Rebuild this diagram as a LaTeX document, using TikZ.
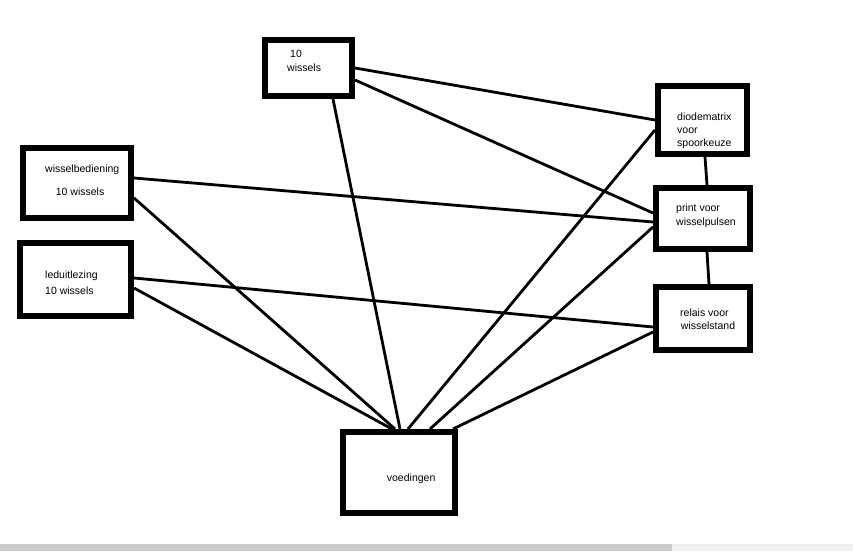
\documentclass[tikz,border=0pt]{standalone}
\usepackage{fontspec}
\setmainfont{Liberation Sans}
\usetikzlibrary{calc}
\tikzset{
  box/.style={draw=black, line width=6pt, inner sep=0pt, rectangle},
  conn/.style={draw=black, line width=2.8pt},
  lbl/.style={anchor=base west, inner sep=0pt, font=\fontsize{10.5}{12}\selectfont, text=black},
  barA/.style={fill=black!20, draw=none},
  barB/.style={fill=black!6, draw=none}
}
\begin{document}
\begin{tikzpicture}[x=1pt,y=-1pt]
\useasboundingbox (0,0) rectangle (853,551);
\fill[white] (0,0) rectangle (853,551);
\fill[barA] (0,544) rectangle (672,551);
\fill[barB] (672,544) rectangle (853,551);

% boxes
\node[box, minimum width=87pt, minimum height=56pt] (w10) at (308.5,68) {};
\node[box, minimum width=108pt, minimum height=70pt] (wb) at (77,183) {};
\node[box, minimum width=111pt, minimum height=73pt] (lu) at (75.5,279.5) {};
\node[box, minimum width=89pt, minimum height=68pt] (dm) at (702.5,120) {};
\node[box, minimum width=94pt, minimum height=61pt] (pv) at (703,218.5) {};
\node[box, minimum width=94pt, minimum height=63pt] (rv) at (703,318.5) {};
\node[box, minimum width=112pt, minimum height=81pt] (vd) at (399,472.5) {};

% texts
\node[lbl] (t1a) at (290,57) {10};
\node[lbl] (t1b) at (287,71.7) {wissels};
\node[lbl] (t2a) at (45,172) {wisselbediening};
\node[lbl] (t2b) at (55.7,195) {10 wissels};
\node[lbl] (t3a) at (45,278.3) {leduitlezing};
\node[lbl] (t3b) at (45,294.3) {10 wissels};
\node[lbl] (t4a) at (677,120) {diodematrix};
\node[lbl] (t4b) at (677,133.3) {voor};
\node[lbl] (t4c) at (677,146.5) {spoorkeuze};
\node[lbl] (t5a) at (676,211.7) {print voor};
\node[lbl] (t5b) at (676,225) {wisselpulsen};
\node[lbl] (t6a) at (680,316) {relais voor};
\node[lbl] (t6b) at (680.7,329.3) {wisselstand};
\node[lbl] (t7a) at (386.7,481) {voedingen};

% connectors
\draw[conn] (w10.east) -- (dm.west);
\draw[conn] ($(w10.east)+(0,12)$) -- ($(pv.west)+(0,-5.5)$);
\draw[conn] ($(w10.south)+(24.5,0)$) -- ($(vd.north)+(1,0)$);
\draw[conn] ($(wb.east)+(0,-5)$) -- ($(pv.west)+(0,3.5)$);
\draw[conn] ($(wb.east)+(0,15)$) -- ($(vd.north)+(-4,0)$);
\draw[conn] ($(lu.east)+(0,-1.5)$) -- ($(rv.west)+(0,8.5)$);
\draw[conn] ($(lu.east)+(0,8.5)$) -- ($(vd.north)+(-7,0)$);
\draw[conn] ($(dm.west)+(0,10)$) -- ($(vd.north)+(9,0)$);
\draw[conn] ($(pv.west)+(0,8.5)$) -- ($(vd.north)+(31,0)$);
\draw[conn] ($(rv.west)+(0,13.5)$) -- ($(vd.north)+(54,0)$);
\draw[conn] ($(dm.south)+(2.5,0)$) -- ($(pv.north)+(4,0)$);
\draw[conn] ($(pv.south)+(4,0)$) -- ($(rv.north)+(6,0)$);
\end{tikzpicture}
\end{document}
